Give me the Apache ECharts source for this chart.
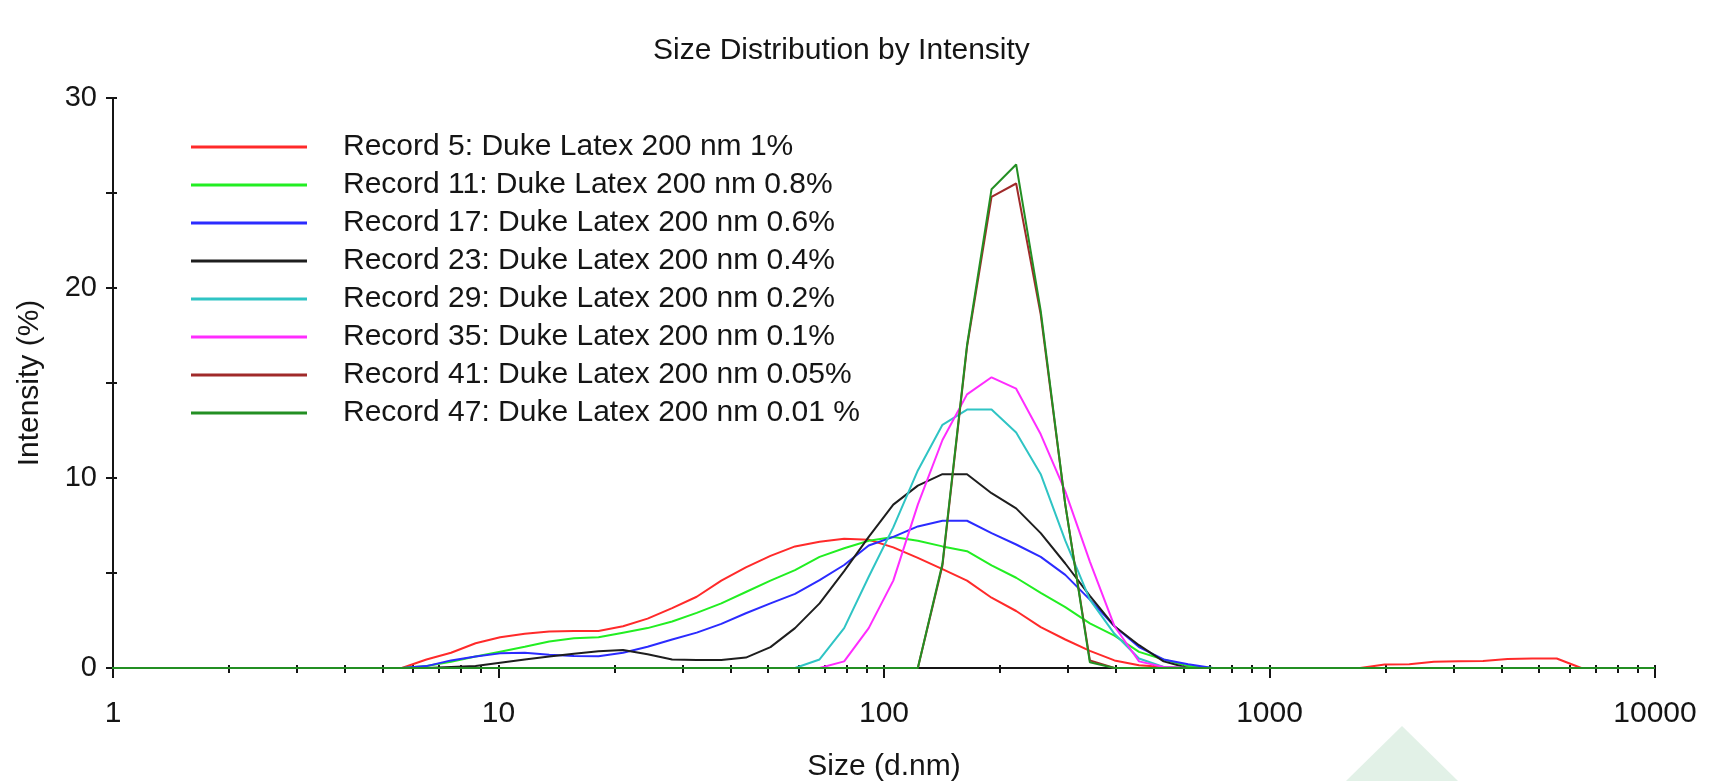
<!DOCTYPE html>
<html>
<head>
<meta charset="utf-8">
<script src="https://cdn.jsdelivr.net/npm/echarts@6/dist/echarts.min.js"></script>
<style>html,body{margin:0;padding:0;background:#fff}#c{width:1712px;height:781px}</style>
</head>
<body>
<div id="c"></div>
<script>
// Size classes (d.nm)
const sizes = [0.9649, 1.117, 1.294, 1.499, 1.736, 2.010, 2.328, 2.696, 3.122, 3.615, 4.187, 4.849,
  5.615, 6.503, 7.531, 8.721, 10.10, 11.70, 13.54, 15.69, 18.17, 21.04, 24.36, 28.21, 32.67, 37.84,
  43.82, 50.75, 58.77, 68.06, 78.82, 91.28, 105.7, 122.4, 141.8, 164.2, 190.1, 220.2, 255.0, 295.3,
  342.0, 396.1, 458.7, 531.2, 615.1, 712.4, 825.0, 955.4, 1106, 1281, 1484, 1718, 1990, 2305, 2669,
  3091, 3580, 4145, 4801, 5560, 6439, 7456, 8635, 10000];

// Intensity (%) per size class
const rec5 = [0,0,0,0,0,0,0,0,0,0,0,0,
  0, 0.45, 0.8, 1.3, 1.62, 1.8, 1.92, 1.95, 1.95, 2.2, 2.6, 3.15, 3.75, 4.6,
  5.3, 5.9, 6.4, 6.65, 6.8, 6.75, 6.35, 5.8, 5.2, 4.6, 3.7, 3.0, 2.15, 1.5,
  0.9, 0.4, 0.15, 0.05, 0, 0, 0, 0, 0, 0, 0, 0, 0.18, 0.2, 0.33,
  0.35, 0.37, 0.48, 0.5, 0.5, 0, 0, 0, 0];
const rec11 = [0,0,0,0,0,0,0,0,0,0,0,0,
  0, 0.1, 0.33, 0.6, 0.86, 1.12, 1.4, 1.56, 1.62, 1.86, 2.1, 2.45, 2.9, 3.4,
  4.0, 4.6, 5.15, 5.85, 6.3, 6.7, 6.9, 6.7, 6.4, 6.15, 5.4, 4.75, 3.95, 3.2,
  2.35, 1.7, 0.85, 0.45, 0.1, 0, 0, 0, 0, 0, 0, 0, 0, 0, 0,
  0, 0, 0, 0, 0, 0, 0, 0, 0];
const rec17 = [0,0,0,0,0,0,0,0,0,0,0,0,
  0, 0.1, 0.4, 0.6, 0.77, 0.8, 0.7, 0.63, 0.62, 0.8, 1.12, 1.5, 1.86, 2.32,
  2.88, 3.4, 3.9, 4.63, 5.42, 6.45, 6.9, 7.45, 7.75, 7.75, 7.1, 6.5, 5.85, 4.9,
  3.6, 2.2, 1.1, 0.45, 0.2, 0, 0, 0, 0, 0, 0, 0, 0, 0, 0,
  0, 0, 0, 0, 0, 0, 0, 0, 0];
const rec23 = [0,0,0,0,0,0,0,0,0,0,0,0,
  0, 0, 0.05, 0.1, 0.28, 0.45, 0.6, 0.75, 0.88, 0.95, 0.72, 0.45, 0.42, 0.42,
  0.55, 1.1, 2.1, 3.4, 5.1, 6.9, 8.6, 9.6, 10.2, 10.2, 9.2, 8.4, 7.1, 5.5,
  3.8, 2.2, 1.2, 0.35, 0, 0, 0, 0, 0, 0, 0, 0, 0, 0, 0,
  0, 0, 0, 0, 0, 0, 0, 0, 0];
const rec29 = [0,0,0,0,0,0,0,0,0,0,0,0,
  0, 0, 0, 0, 0, 0, 0, 0, 0, 0, 0, 0, 0, 0,
  0, 0, 0, 0.45, 2.1, 4.8, 7.4, 10.4, 12.8, 13.6, 13.6, 12.4, 10.2, 6.7,
  3.6, 1.8, 0.5, 0.05, 0, 0, 0, 0, 0, 0, 0, 0, 0, 0, 0,
  0, 0, 0, 0, 0, 0, 0, 0, 0];
const rec35 = [0,0,0,0,0,0,0,0,0,0,0,0,
  0, 0, 0, 0, 0, 0, 0, 0, 0, 0, 0, 0, 0, 0,
  0, 0, 0, 0, 0.35, 2.1, 4.6, 8.6, 12.0, 14.4, 15.3, 14.7, 12.3, 9.3,
  5.6, 2.2, 0.35, 0.05, 0, 0, 0, 0, 0, 0, 0, 0, 0, 0, 0,
  0, 0, 0, 0, 0, 0, 0, 0, 0];
const rec41 = [0,0,0,0,0,0,0,0,0,0,0,0,
  0, 0, 0, 0, 0, 0, 0, 0, 0, 0, 0, 0, 0, 0,
  0, 0, 0, 0, 0, 0, 0, 0, 5.4, 16.9, 24.8, 25.5, 18.6, 8.6,
  0.4, 0, 0, 0, 0, 0, 0, 0, 0, 0, 0, 0, 0, 0, 0,
  0, 0, 0, 0, 0, 0, 0, 0, 0];
const rec47 = [0,0,0,0,0,0,0,0,0,0,0,0,
  0, 0, 0, 0, 0, 0, 0, 0, 0, 0, 0, 0, 0, 0,
  0, 0, 0, 0, 0, 0, 0, 0, 5.5, 17.0, 25.2, 26.5, 18.8, 8.6,
  0.3, 0, 0, 0, 0, 0, 0, 0, 0, 0, 0, 0, 0, 0, 0,
  0, 0, 0, 0, 0, 0, 0, 0, 0];

const seriesNames = [
  'Record 5: Duke Latex 200 nm 1%',
  'Record 11: Duke Latex 200 nm 0.8%',
  'Record 17: Duke Latex 200 nm 0.6%',
  'Record 23: Duke Latex 200 nm 0.4%',
  'Record 29: Duke Latex 200 nm 0.2%',
  'Record 35: Duke Latex 200 nm 0.1%',
  'Record 41: Duke Latex 200 nm 0.05%',
  'Record 47: Duke Latex 200 nm 0.01 %'
];
const seriesValues = [rec5, rec11, rec17, rec23, rec29, rec35, rec41, rec47];

// Tick labels / tick positions
const xTickValues = [1,2,3,4,5,6,7,8,9,10,20,30,40,50,60,70,80,90,100,200,300,400,500,600,700,800,900,
  1000,2000,3000,4000,5000,6000,7000,8000,9000,10000];
const xLabelValues = [1, 10, 100, 1000, 10000];
const yLabelValues = [0, 10, 20, 30];

const colors = ['#ff2a2a', '#22ee22', '#2b2bff', '#1e1e1e', '#2fc4c4', '#ff2cff', '#a02a2a', '#238f23'];
const font = "'Liberation Sans', Arial, Helvetica, sans-serif";
const ink = '#151515';

const chart = echarts.init(document.getElementById('c'), null, {renderer: 'canvas'});

const series = seriesNames.map((name, k) => ({
  name: name,
  type: 'line',
  xAxisIndex: 0,
  yAxisIndex: 0,
  symbol: 'none',
  showSymbol: false,
  clip: true,
  lineStyle: {width: 2, color: colors[k]},
  itemStyle: {color: colors[k]},
  data: sizes.map((s, i) => [s, seriesValues[k][i]]),
  z: 3 + k
}));

const baseLog = {type: 'log', logBase: 10, min: 1, max: 10000, gridIndex: 0, position: 'bottom',
  splitLine: {show: false}, minorTick: {show: false}, minorSplitLine: {show: false}};

chart.setOption({
  animation: false,
  backgroundColor: '#ffffff',
  textStyle: {fontFamily: font},
  title: {
    text: 'Size Distribution by Intensity',
    left: 653, top: 36, padding: 0,
    textStyle: {fontSize: 30, fontWeight: 'normal', color: ink, fontFamily: font}
  },
  grid: {left: 113, right: 57, top: 98, bottom: 113, containLabel: false, outerBoundsMode: 'none'},
  legend: {
    orient: 'vertical', left: 191, top: 128, padding: 0,
    icon: 'rect',
    itemWidth: 116, itemHeight: 3, itemGap: 0,
    textStyle: {fontSize: 30, lineHeight: 38, color: ink, fontFamily: font, padding: [0, 0, 0, 31]},
    selectedMode: false,
    data: seriesNames
  },
  xAxis: [
    Object.assign({}, baseLog, {
      axisLine: {show: true, onZero: false, lineStyle: {color: ink, width: 2}},
      axisTick: {show: true, inside: false, length: 5, customValues: xTickValues, lineStyle: {color: ink, width: 2}},
      axisLabel: {show: true, customValues: xLabelValues, margin: 31, fontSize: 30, color: ink, fontFamily: font,
        formatter: v => String(v)},
      name: 'Size (d.nm)', nameLocation: 'middle', nameGap: 84,
      nameTextStyle: {fontSize: 30, color: ink, fontFamily: font}
    }),
    Object.assign({}, baseLog, {
      axisLine: {show: false},
      axisTick: {show: true, inside: true, length: 3, customValues: xTickValues, lineStyle: {color: ink, width: 2}},
      axisLabel: {show: false}
    }),
    Object.assign({}, baseLog, {
      axisLine: {show: false},
      axisTick: {show: true, inside: false, length: 10, customValues: xLabelValues, lineStyle: {color: ink, width: 2}},
      axisLabel: {show: false}
    })
  ],
  yAxis: [
    {
      type: 'value', min: 0, max: 30, interval: 5, position: 'left', gridIndex: 0,
      axisLine: {show: true, onZero: false, lineStyle: {color: ink, width: 2}},
      axisTick: {show: true, inside: false, length: 7, lineStyle: {color: ink, width: 2}},
      axisLabel: {show: true, customValues: yLabelValues, margin: 16, fontSize: 29, color: ink, fontFamily: font},
      splitLine: {show: false},
      name: 'Intensity (%)', nameLocation: 'middle', nameGap: 68,
      nameTextStyle: {fontSize: 30, color: ink, fontFamily: font}
    },
    {
      type: 'value', min: 0, max: 30, interval: 5, position: 'left', gridIndex: 0,
      axisLine: {show: false},
      axisTick: {show: true, inside: true, length: 4, lineStyle: {color: ink, width: 2}},
      axisLabel: {show: false},
      splitLine: {show: false}
    }
  ],
  graphic: [{
    type: 'polygon', silent: true, z: -1,
    shape: {points: [[1402, 726], [1346, 781], [1458, 781]]},
    style: {fill: '#e2f1e7'}
  }],
  series: series
});
</script>
</body>
</html>
